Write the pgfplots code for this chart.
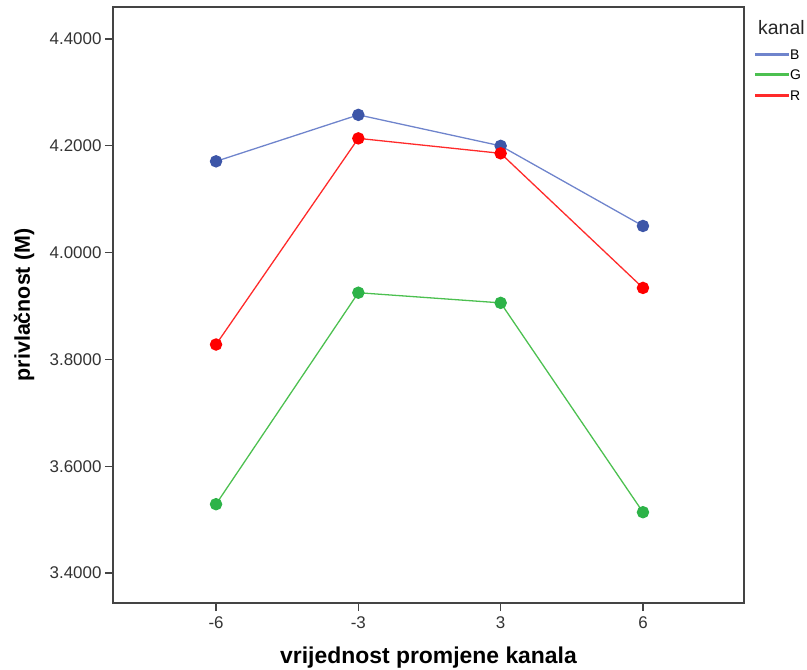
\documentclass[border=0pt]{standalone}
\usepackage{fontspec}
\setmainfont{Liberation Sans}
\usepackage{pgfplots}
\pgfplotsset{compat=1.18}
\definecolor{Bline}{HTML}{6F84CC}
\definecolor{Bmark}{HTML}{3D56A8}
\definecolor{Gline}{HTML}{4CC050}
\definecolor{Gmark}{HTML}{2DB348}
\definecolor{Rline}{HTML}{FF2A2A}
\definecolor{Rmark}{HTML}{FF0000}
\definecolor{axgray}{HTML}{444444}
\begin{document}
\begin{tikzpicture}[x=1bp,y=1bp]
\useasboundingbox (-113bp,-67bp) rectangle (694bp,603bp);
\begin{axis}[
  at={(0,0)}, anchor=south west,
  scale only axis, width=631bp, height=596bp,
  xmin=-0.724, xmax=3.71,
  ymin=3.344, ymax=4.46,
  xtick={0,1,2,3}, xticklabels={-6,-3,3,6},
  ytick={3.4,3.6,3.8,4.0,4.2,4.4},
  /pgf/number format/assume math mode=true,
  /pgf/number format/fixed,
  /pgf/number format/fixed zerofill,
  /pgf/number format/precision=4,
  tick label style={font=\fontsize{17}{19}\selectfont, text=black!80},
  xticklabel style={yshift=-2.5bp},
  yticklabel style={xshift=0bp},
  axis line style={axgray, line width=1.3pt},
  tick style={axgray, line width=1.3pt},
  tick align=outside, major tick length=8bp,
  xtick pos=bottom, ytick pos=left,
  xlabel={\bfseries vrijednost promjene kanala},
  ylabel={\bfseries privlačnost (M)},
  xlabel style={font=\fontsize{23}{26}\selectfont, at={(axis description cs:0.5,0)}, anchor=center, yshift=-54.5bp},
  ylabel style={font=\fontsize{21.5}{24}\selectfont, at={(axis description cs:0,0.5)}, anchor=center, yshift=89bp},
  legend style={at={(axis description cs:1,0.929)}, anchor=north west, draw=none,
    fill=none, font=\fontsize{14}{16}\selectfont, row sep=10.3bp, xshift=11bp,
    inner sep=0pt, nodes={inner sep=0pt, inner xsep=1.5bp, text height=10bp, text depth=0bp}},
  legend cell align=left,
  legend image code/.code={\fill[#1] (0bp,-0.8bp) rectangle (32bp,0.8bp);},
  clip=false,
]
\addplot[Bline, line width=1.3pt, mark=*, mark size=5.6pt, mark options={fill=Bmark, draw=Bmark}]
  coordinates {(0,4.171) (1,4.258) (2,4.200) (3,4.050)};
\addlegendentry{B}
\addplot[Gline, line width=1.3pt, mark=*, mark size=5.6pt, mark options={fill=Gmark, draw=Gmark}]
  coordinates {(0,3.529) (1,3.925) (2,3.906) (3,3.514)};
\addlegendentry{G}
\addplot[Rline, line width=1.3pt, mark=*, mark size=5.6pt, mark options={fill=Rmark, draw=Rmark}]
  coordinates {(0,3.828) (1,4.214) (2,4.186) (3,3.934)};
\addlegendentry{R}
\node[anchor=west, font=\fontsize{19.5}{22}\selectfont, text=black!85, inner sep=0pt] at (rel axis cs:1,0.966) [xshift=14bp] {kanal};
\end{axis}
\end{tikzpicture}
\end{document}
